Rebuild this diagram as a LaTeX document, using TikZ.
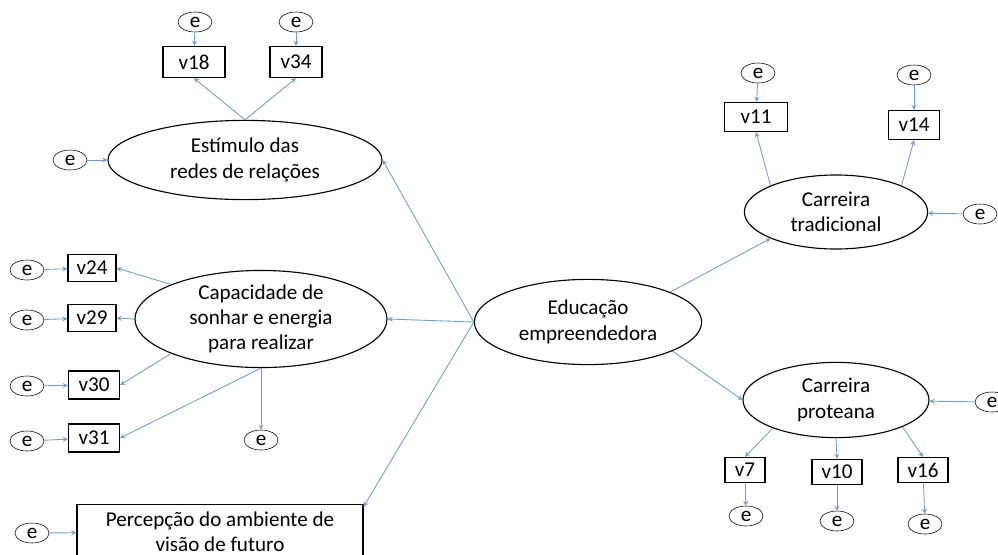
\documentclass[tikz,border=0pt]{standalone}
\usepackage{fontspec}
\setmainfont{Carlito}
\usepackage{xcolor}
\usetikzlibrary{shapes.geometric, positioning, arrows}
\definecolor{linkblue}{RGB}{105,158,206}

\begin{document}
\begin{tikzpicture} [x=0.025cm, y=-0.025cm, font=\fontsize{15}{18}\selectfont,
        lat/.style={ellipse, draw, thick, inner sep=0pt, align=center},
        obs/.style={rectangle, draw, thick, inner sep=0pt, align=center},
        err/.style={ellipse, draw, inner sep=0pt, minimum width=0.85cm, minimum height=0.5cm},
        link/.style={-stealth, linkblue, semithick}]
        \clip (0,0) rectangle (998,554);
        % latent variables
        \node (EST)[lat, minimum width=6.85cm, minimum height=1.98cm] at (245,160) {Estímulo das\\redes de relações};
        \node (CAP)[lat, minimum width=6.3cm, minimum height=2.38cm] at (261,319) {Capacidade de\\sonhar e energia\\para realizar};
        \node (EDU)[lat, minimum width=5.68cm, minimum height=2.13cm] at (588,322) {Educação\\empreendedora};
        \node (TRAD)[lat, minimum width=4.58cm, minimum height=1.85cm] at (836,212) {Carreira\\tradicional};
        \node (PROT)[lat, minimum width=4.65cm, minimum height=1.88cm] at (836,400) {Carreira\\proteana};
        \node (PERC)[obs, minimum width=7.15cm, minimum height=1.38cm] at (220,532) {Percepção do ambiente de\\visão de futuro};
        % observed variables
        \node (v18)[obs, minimum width=1.55cm, minimum height=0.78cm] at (194,62) {v18};
        \node (v34)[obs, minimum width=1.3cm, minimum height=0.78cm] at (296,62) {v34};
        \node (v24)[obs, minimum width=1.2cm, minimum height=0.68cm] at (92,268) {v24};
        \node (v29)[obs, minimum width=1.2cm, minimum height=0.68cm] at (92,318) {v29};
        \node (v30)[obs, minimum width=1.28cm, minimum height=0.7cm] at (94,385) {v30};
        \node (v31)[obs, minimum width=1.28cm, minimum height=0.7cm] at (94,438) {v31};
        \node (v11)[obs, minimum width=1.58cm, minimum height=0.73cm] at (756,117) {v11};
        \node (v14)[obs, minimum width=1.28cm, minimum height=0.73cm] at (914,125) {v14};
        \node (v7)[obs, minimum width=1.0cm, minimum height=0.63cm] at (745,470) {v7};
        \node (v10)[obs, minimum width=1.25cm, minimum height=0.63cm] at (837,472) {v10};
        \node (v16)[obs, minimum width=1.25cm, minimum height=0.63cm] at (923,470) {v16};
        % errors
        \node (e18)[err] at (195,22) {e}; \node (e34)[err] at (296,22) {e};
        \node (eEST)[err] at (70,160) {e};
        \node (e24)[err] at (27,270) {e}; \node (e29)[err] at (27,320) {e};
        \node (e30)[err] at (27,386) {e}; \node (e31)[err] at (27,441) {e};
        \node (eCAP)[err] at (261,440) {e};
        \node (ePERC)[err] at (32,533) {e};
        \node (e11)[err] at (758,73) {e}; \node (e14)[err] at (914,75) {e};
        \node (eTRAD)[err] at (980,214) {e};
        \node (ePROT)[err] at (992,402) {e};
        \node (e7)[err] at (746,516) {e}; \node (e10)[err] at (837,521) {e};
        \node (e16)[err] at (925,524) {e};

        \path [link]
        (EDU.west) edge (EST.east) (EDU.west) edge (CAP.east)
        (EDU.west) edge (PERC.10) (EDU.20) edge (TRAD.202)
        (EDU.-19) edge (PROT.west)
        (EST.north) edge (v18.south) (EST.north) edge (v34.south)
        (CAP.159) edge (v24.east) (CAP.west) edge (v29.east)
        (CAP.201) edge (v30.east) (CAP.south) edge (v31.east)
        (CAP.south) edge (eCAP.north)
        (TRAD.158) edge (v11.south) (TRAD.22) edge (v14.south)
        (PROT.204) edge (v7.north) (PROT.south) edge (v10.north)
        (PROT.338) edge (v16.north);
        \path [link]
        (e18) edge (v18) (e34) edge (v34) (eEST) edge (EST)
        (e24) edge (v24) (e29) edge (v29) (e30) edge (v30) (e31) edge (v31)
        (ePERC) edge (PERC) (e11) edge (v11) (e14) edge (v14)
        (eTRAD) edge (TRAD) (ePROT) edge (PROT)
        (v7) edge (e7) (v10) edge (e10) (v16) edge (e16);
    \end{tikzpicture}
\end{document}
